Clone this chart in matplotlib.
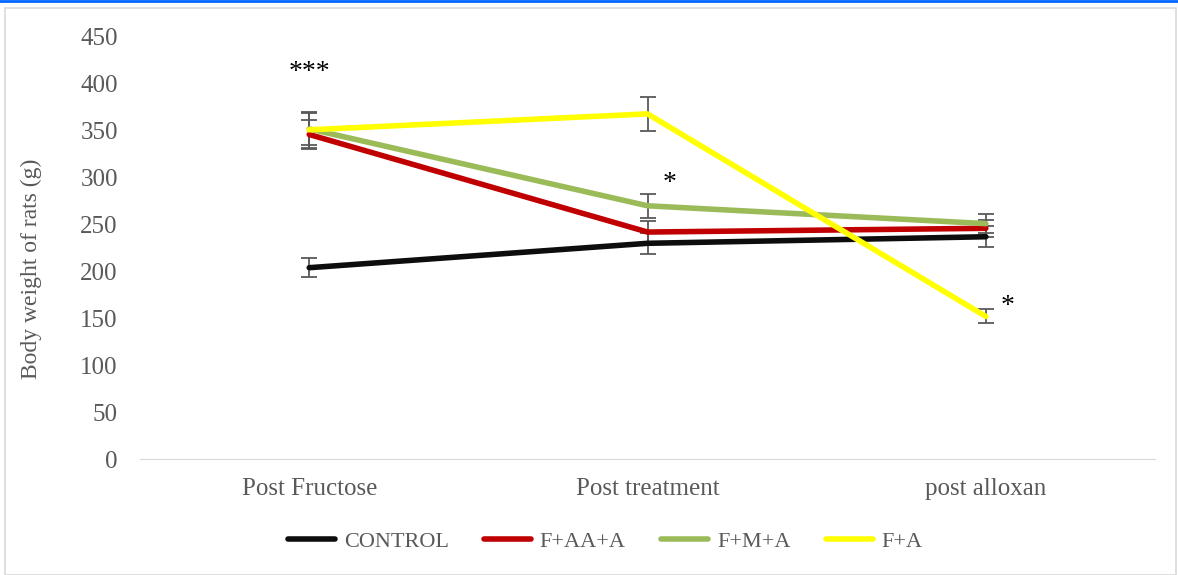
import matplotlib.pyplot as plt
from matplotlib.lines import Line2D
from matplotlib.patches import Rectangle

plt.rcParams["font.family"] = ["Liberation Serif", "DejaVu Serif"]

stages = ["Post Fructose", "Post treatment", "post alloxan"]
groups = ["CONTROL", "F+AA+A", "F+M+A", "F+A"]
colors = ["#0d0d0d", "#c00000", "#9bbb59", "#ffff00"]

control = [204, 230, 237]
f_aa_a = [346, 242, 246]
f_m_a = [352, 270, 251]
f_a = [351, 368, 152]

control_err = [10, 11, 11]
f_aa_a_err = [15, 12, 9]
f_m_a_err = [17, 13, 10]
f_a_err = [19, 18, 7.5]

values = [control, f_aa_a, f_m_a, f_a]
errors = [control_err, f_aa_a_err, f_m_a_err, f_a_err]

# significance marks: (stage index, value, text)
marks = [(0, 412, "***"), (1, 294, "*"), (2, 163, "*")]

fig = plt.figure(figsize=(11.78, 5.75), dpi=100)
ax = fig.add_axes([0.1189, 0.2017, 0.8616, 0.734])

x = list(range(len(stages)))
grey = "#595959"
for vals, errs, c, name in zip(values, errors, colors, groups):
    ax.errorbar(x, vals, yerr=errs, color=c, lw=4, ecolor=grey, elinewidth=1.3,
                capsize=6, capthick=1.3, label=name, solid_capstyle="round")

for i, v, t in marks:
    ax.text(i if t == "***" else i + 0.065, v, t, fontsize=20,
            ha="center", va="center", color="black")

ax.set_xlim(-0.5, 2.5)
ax.set_ylim(0, 450)
ax.set_yticks(range(0, 451, 50))
ax.set_xticks(x)
ax.set_xticklabels(stages)
ax.tick_params(axis="both", length=0, labelsize=18, colors=grey)
ax.tick_params(axis="x", pad=14)
ax.tick_params(axis="y", pad=16)
for s in ["top", "right", "left"]:
    ax.spines[s].set_visible(False)
ax.spines["bottom"].set_color("#d9d9d9")
ax.set_ylabel("Body weight of rats (g)", fontsize=17, color=grey)
ax.yaxis.set_label_coords(-0.097, 0.45)

handles = [Line2D([], [], color=c, lw=4, solid_capstyle="round") for c in colors]
fig.legend(handles, groups, loc="center", bbox_to_anchor=(0.514, 0.058), ncol=4,
           frameon=False, fontsize=16, labelcolor=grey, handlelength=2.1,
           handletextpad=0.4, columnspacing=1.6)

# chart frame and top line
fig.add_artist(Rectangle((0.004, 0.0), 0.994, 0.986, transform=fig.transFigure,
                         fill=False, edgecolor="#d9d9d9", lw=1.2))
fig.add_artist(Line2D([0, 1], [0.998, 0.998], transform=fig.transFigure,
                      color="#0066ff", lw=2))

fig.savefig("out.png", dpi=100)
